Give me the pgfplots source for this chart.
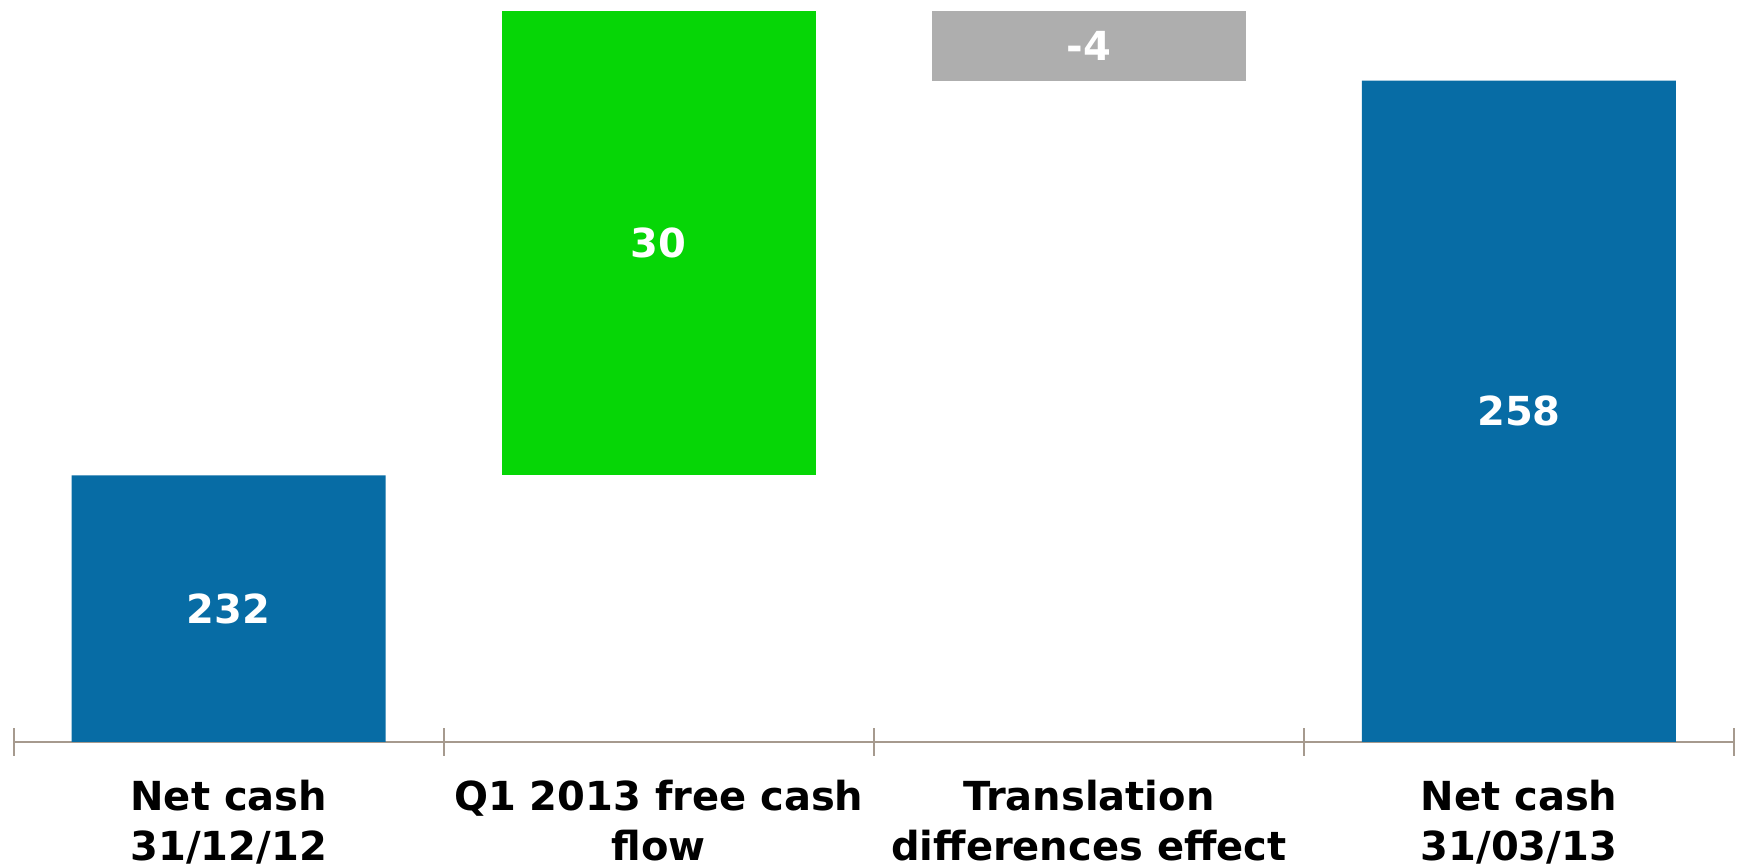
\documentclass[border=0pt]{standalone}
\usepackage{pgfplots}
\usepackage{pgfplotstable}
\pgfplotsset{compat=1.18}
\usepackage{fontspec}
\setmainfont{DejaVu Sans}
\definecolor{netblue}{RGB}{7,108,165}
\definecolor{flowgreen}{RGB}{6,214,6}
\definecolor{fxgray}{RGB}{174,174,174}
\definecolor{axisc}{RGB}{166,154,142}

\pgfplotstableread{
cat base net flow fx
0 0     232   0  0
1 232   0     30 0
2 257.5 0     0  4.5
3 0     257.5 0  0
}\wftable

\tikzset{vallabel/.style={font=\fontsize{20}{25}\selectfont\bfseries, text=white, inner sep=0pt}}

\begin{document}
\begin{tikzpicture}
\begin{axis}[
  at={(0,0)}, anchor=south west,
  scale only axis, width=860.15pt, height=370.85pt,
  xmin=-0.5, xmax=3.5, ymin=214.8, ymax=262.71,
  ybar stacked, bar width=157pt,
  axis x line*=bottom, axis y line=none,
  axis line style={draw=axisc, line width=0.9pt},
  xtick={0,1,2,3},
  xticklabels={{Net cash\\31/12/12},{Q1 2013 free cash\\flow},{Translation\\differences effect},{Net cash\\31/03/13}},
  major tick length=0pt,
  xticklabel style={font=\fontsize{20}{25}\selectfont\bfseries, align=center, inner sep=0pt, anchor=north, yshift=-19pt},
  extra x ticks={-0.5,0.5,1.5,2.5,3.5},
  extra x tick labels={},
  extra x tick style={major tick length=14pt, tick align=center, major tick style={draw=axisc, line width=0.9pt}},
]
\addplot[fill=white, fill opacity=0, draw=none] table[x=cat, y=base] {\wftable};
\addplot[fill=netblue, draw=none] table[x=cat, y=net] {\wftable};
\addplot[fill=flowgreen, draw=none] table[x=cat, y=flow] {\wftable};
\addplot[fill=fxgray, draw=none] table[x=cat, y=fx] {\wftable};
\coordinate (L0) at (axis cs:0,223.4);
\coordinate (L1) at (axis cs:1,247);
\coordinate (L2) at (axis cs:2,259.75);
\coordinate (L3) at (axis cs:3,236.15);
\end{axis}
\node[vallabel] at (L0) {232};
\node[vallabel] at (L1) {30};
\node[vallabel] at (L2) {-4};
\node[vallabel] at (L3) {258};
\pgfresetboundingbox
\path[use as bounding box] (-6.85pt,-63.15pt) rectangle (861.65pt,370.85pt);
\end{tikzpicture}
\end{document}
